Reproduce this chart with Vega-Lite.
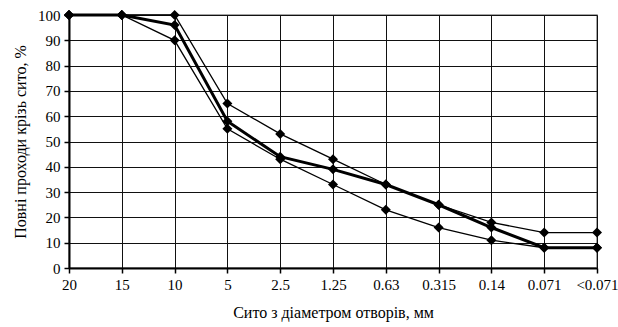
{
  "$schema": "https://vega.github.io/schema/vega-lite/v6.json",
  "autosize": "none",
  "padding": {"left": 69, "top": 15, "right": 21, "bottom": 59},
  "width": 528,
  "height": 253,
  "background": "white",
  "config": {
    "font": "Liberation Serif",
    "view": {"stroke": "#888", "strokeWidth": 1.5},
    "axis": {
      "labelFont": "Liberation Serif",
      "titleFont": "Liberation Serif",
      "labelFontSize": 15,
      "titleFontSize": 16,
      "labelColor": "black",
      "titleColor": "black",
      "titleFontWeight": "normal",
      "gridColor": "#111",
      "gridOpacity": 1,
      "gridWidth": 1,
      "domainColor": "black",
      "domainWidth": 2,
      "tickColor": "black",
      "tickSize": 5,
      "tickWidth": 1.5
    }
  },
  "data": {
    "values": [
      {"sieve": "20", "series": "upper", "value": 100},
      {"sieve": "15", "series": "upper", "value": 100},
      {"sieve": "10", "series": "upper", "value": 100},
      {"sieve": "5", "series": "upper", "value": 65},
      {"sieve": "2.5", "series": "upper", "value": 53},
      {"sieve": "1.25", "series": "upper", "value": 43},
      {"sieve": "0.63", "series": "upper", "value": 33},
      {"sieve": "0.315", "series": "upper", "value": 25},
      {"sieve": "0.14", "series": "upper", "value": 18},
      {"sieve": "0.071", "series": "upper", "value": 14},
      {"sieve": "<0.071", "series": "upper", "value": 14},
      {"sieve": "20", "series": "lower", "value": 100},
      {"sieve": "15", "series": "lower", "value": 100},
      {"sieve": "10", "series": "lower", "value": 90},
      {"sieve": "5", "series": "lower", "value": 55},
      {"sieve": "2.5", "series": "lower", "value": 43},
      {"sieve": "1.25", "series": "lower", "value": 33},
      {"sieve": "0.63", "series": "lower", "value": 23},
      {"sieve": "0.315", "series": "lower", "value": 16},
      {"sieve": "0.14", "series": "lower", "value": 11},
      {"sieve": "0.071", "series": "lower", "value": 8},
      {"sieve": "<0.071", "series": "lower", "value": 8},
      {"sieve": "20", "series": "actual", "value": 100},
      {"sieve": "15", "series": "actual", "value": 100},
      {"sieve": "10", "series": "actual", "value": 96},
      {"sieve": "5", "series": "actual", "value": 58},
      {"sieve": "2.5", "series": "actual", "value": 44},
      {"sieve": "1.25", "series": "actual", "value": 39},
      {"sieve": "0.63", "series": "actual", "value": 33},
      {"sieve": "0.315", "series": "actual", "value": 25},
      {"sieve": "0.14", "series": "actual", "value": 16},
      {"sieve": "0.071", "series": "actual", "value": 8},
      {"sieve": "<0.071", "series": "actual", "value": 8}
    ]
  },
  "encoding": {
    "x": {
      "field": "sieve",
      "type": "ordinal",
      "sort": ["20", "15", "10", "5", "2.5", "1.25", "0.63", "0.315", "0.14", "0.071", "<0.071"],
      "scale": {"type": "point", "padding": 0},
      "axis": {
        "title": "Сито з діаметром отворів, мм",
        "labelAngle": 0,
        "labelPadding": 4,
        "titlePadding": 12,
        "grid": true
      }
    },
    "y": {
      "field": "value",
      "type": "quantitative",
      "scale": {"domain": [0, 100], "nice": false},
      "axis": {
        "title": "Повні проходи крізь сито, %",
        "values": [0, 10, 20, 30, 40, 50, 60, 70, 80, 90, 100],
        "labelPadding": 4,
        "titlePadding": 9,
        "grid": true
      }
    }
  },
  "layer": [
    {
      "transform": [{"filter": "datum.series !== 'actual'"}],
      "mark": {"type": "line", "color": "black", "strokeWidth": 1.3},
      "encoding": {"detail": {"field": "series"}}
    },
    {
      "transform": [{"filter": "datum.series === 'actual'"}],
      "mark": {"type": "line", "color": "black", "strokeWidth": 3}
    },
    {
      "mark": {"type": "point", "shape": "diamond", "filled": true, "color": "black", "opacity": 1, "size": 100}
    }
  ]
}
